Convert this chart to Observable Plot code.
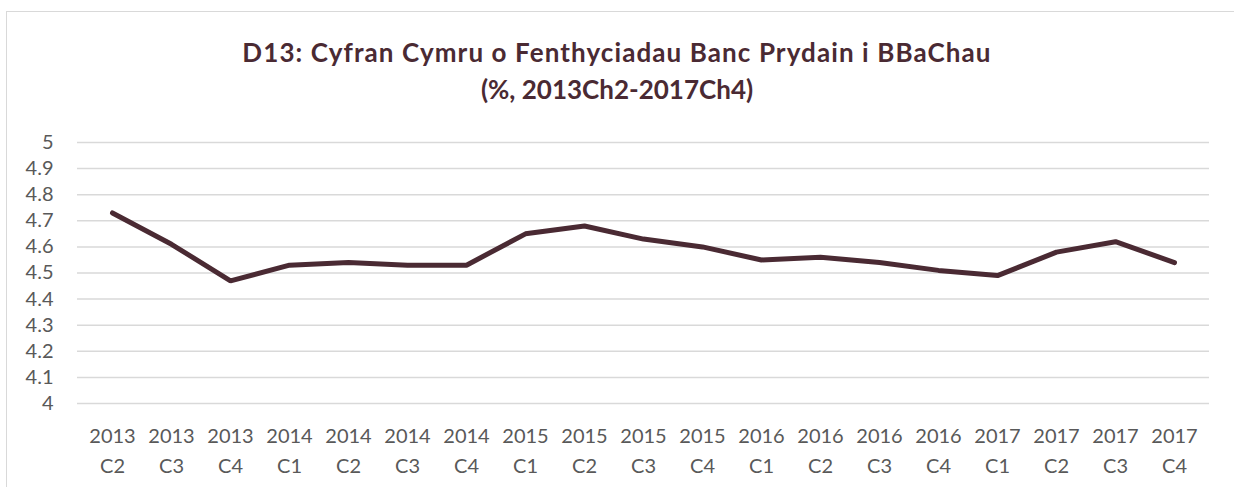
<!DOCTYPE html>
<html><head><meta charset="utf-8">
<script src="https://cdn.jsdelivr.net/npm/d3@7"></script>
<script src="https://cdn.jsdelivr.net/npm/@observablehq/plot@0.6"></script>
<style>
html,body{margin:0;padding:0;background:#fff;overflow:hidden;width:1234px;height:487px;}
#frame{position:absolute;left:6px;top:11px;width:1400px;height:600px;border:1.5px solid #d9d9d9;}
#title{position:absolute;left:0;top:34px;width:1234px;text-align:center;font-family:Lato,"Open Sans",sans-serif;font-weight:bold;font-size:26px;line-height:37px;color:#4a2a33;}
#title .l1{letter-spacing:1.1px;}
#chart{position:absolute;left:0;top:120px;}
</style></head>
<body>
<div id="frame"></div>
<div id="title"><span class="l1">D13: Cyfran Cymru o Fenthyciadau Banc Prydain i BBaChau</span><br>(%, 2013Ch2-2017Ch4)</div>
<div id="chart"></div>
<script>
const years = [2013,2013,2013,2014,2014,2014,2014,2015,2015,2015,2015,2016,2016,2016,2016,2017,2017,2017,2017];
const quarters = ["C2","C3","C4","C1","C2","C3","C4","C1","C2","C3","C4","C1","C2","C3","C4","C1","C2","C3","C4"];
const values = [4.73,4.61,4.47,4.53,4.54,4.53,4.53,4.65,4.68,4.63,4.60,4.55,4.56,4.54,4.51,4.49,4.58,4.62,4.54];
const yTicks = [4,4.1,4.2,4.3,4.4,4.5,4.6,4.7,4.8,4.9,5];

const labels = years.map((y,i)=>`${y}\n${quarters[i]}`);
const data = labels.map((l,i)=>({label:l, value:values[i]}));

const chart = Plot.plot({
  width:1234, height:367,
  marginTop:22, marginBottom:84, marginLeft:77, marginRight:25,
  style:{fontFamily:"Lato, 'Open Sans', sans-serif", fontSize:"20px", color:"#595959", background:"transparent"},
  x:{type:"point", domain:labels, padding:0.5, label:null},
  y:{domain:[4,5], label:null},
  marks:[
    Plot.gridY(yTicks,{stroke:"#d9d9d9", strokeOpacity:1, strokeWidth:1.5}),
    Plot.axisY(yTicks,{tickSize:0, tickPadding:24, label:null, tickFormat:d=>d3.format("~g")(d), fill:"#595959", fontSize:20}),
    Plot.axisX({tickSize:0, tickPadding:18, label:null, lineHeight:1.5, fill:"#595959", fontSize:20, textAnchor:"middle"}),
    Plot.line(data,{x:"label", y:"value", stroke:"#4a2a33", strokeWidth:5, strokeLinejoin:"miter", strokeLinecap:"round"})
  ]
});
document.getElementById("chart").appendChild(chart);
</script>
</body></html>
